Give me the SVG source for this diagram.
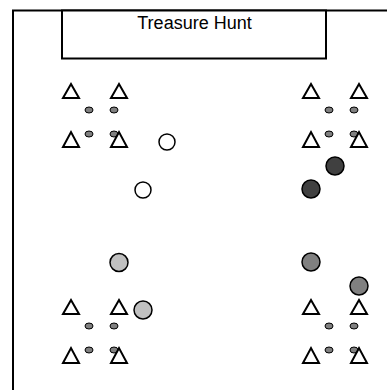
<svg xmlns="http://www.w3.org/2000/svg" width="387" height="390" viewBox="0 0 387 390">
<defs>
<style>
.frame{fill:none;stroke:#000;stroke-width:2}
.title{fill:#fff;stroke:#000;stroke-width:2}
.tri{fill:none;stroke:#000;stroke-width:2;stroke-linejoin:miter}
.dot{fill:#808080;stroke:#000;stroke-width:1}
.c-open{fill:#fff;stroke:#000;stroke-width:1.5}
.c-dark{fill:#404040;stroke:#000;stroke-width:1.5}
.c-mid{fill:#808080;stroke:#000;stroke-width:1.5}
.c-light{fill:#c0c0c0;stroke:#000;stroke-width:1.5}
text{font-family:"Liberation Sans",Arial,sans-serif;font-size:18px;fill:#000}
</style>
<g id="cluster">
<ellipse class="dot" cx="89" cy="110" rx="4" ry="3"/>
<ellipse class="dot" cx="114" cy="110" rx="4" ry="3"/>
<ellipse class="dot" cx="89" cy="134" rx="4" ry="3"/>
<ellipse class="dot" cx="114" cy="134" rx="4" ry="3"/>
<polygon class="tri" points="63,98 71,84 79,98"/>
<polygon class="tri" points="111,98 119,84 127,98"/>
<polygon class="tri" points="63,147 71,132 79,147"/>
<polygon class="tri" points="111,147 119,132 127,147"/>
</g>
</defs>
<rect id="bg" x="0" y="0" width="387" height="390" fill="#fff"/>
<g id="frame">
<path class="frame" d="M13,392 V10.5 H390"/>
</g>
<g id="title-box">
<rect class="title" x="62" y="10.5" width="264" height="48"/>
<text x="194.5" y="28.5" text-anchor="middle">Treasure Hunt</text>
</g>
<g id="table-top-left"><use href="#cluster"/></g>
<g id="table-top-right"><use href="#cluster" x="240"/></g>
<g id="table-bottom-left"><use href="#cluster" y="216"/></g>
<g id="table-bottom-right"><use href="#cluster" x="240" y="216"/></g>
<g id="open-1"><circle class="c-open" cx="167" cy="142" r="8"/></g>
<g id="open-2"><circle class="c-open" cx="143" cy="190" r="8"/></g>
<g id="dark-1"><circle class="c-dark" cx="335" cy="166" r="9"/></g>
<g id="dark-2"><circle class="c-dark" cx="311" cy="189" r="9"/></g>
<g id="light-1"><circle class="c-light" cx="119" cy="262.5" r="9"/></g>
<g id="light-2"><circle class="c-light" cx="143" cy="310" r="9"/></g>
<g id="mid-1"><circle class="c-mid" cx="311" cy="262" r="9"/></g>
<g id="mid-2"><circle class="c-mid" cx="359" cy="286" r="9"/></g>
<g id="connectors"/>
</svg>
